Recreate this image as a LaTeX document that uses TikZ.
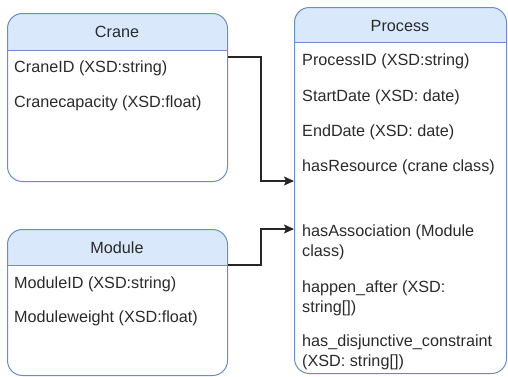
\documentclass[tikz,border=0pt]{standalone}
\usepackage{fontspec}
\setmainfont{Liberation Sans}
\usetikzlibrary{arrows.meta}
\definecolor{hdr}{HTML}{DAE8FC}
\definecolor{bdr}{HTML}{6C8EBF}
\definecolor{txt}{HTML}{2A2A2A}
\tikzset{
  umlbox/.style 2 args={draw=bdr, line width=1pt, rounded corners=15pt, rectangle,
    minimum width=#1, minimum height=#2, inner sep=0pt, anchor=north west},
  hdrfill/.style={fill=hdr},
  attr/.style={anchor=west, inner sep=0pt, text=txt, font=\fontsize{16.2}{19}\selectfont},
  title/.style={inner sep=0pt, text=txt, font=\fontsize{16.2}{19}\selectfont},
  conn/.style={draw=black!85, line width=1.1pt, -{Stealth[length=10pt,width=9pt,inset=2pt]}}
}
\begin{document}
\begin{tikzpicture}[x=1pt,y=-1pt]
\useasboundingbox (0,0) rectangle (508,376);
% Crane
\begin{scope}
\clip (7,13) rectangle (227,50);
\fill[hdrfill, rounded corners=15pt] (7,13) rectangle (227,181);
\end{scope}
\node[umlbox={220pt}{168pt}] (crane) at (7,13) {};
\draw[draw=bdr, line width=1pt] (7,50) -- (227,50);
\node[title] (craneT) at (117,32) {Crane};
\node[attr] (c1) at (14,68) {CraneID (XSD:string)};
\node[attr] (c2) at (14,103) {Cranecapacity (XSD:float)};
% Module
\begin{scope}
\clip (7,229) rectangle (227,265);
\fill[hdrfill, rounded corners=15pt] (7,229) rectangle (227,375);
\end{scope}
\node[umlbox={220pt}{146pt}] (mod) at (7,229) {};
\draw[draw=bdr, line width=1pt] (7,265) -- (227,265);
\node[title] (modT) at (117,248) {Module};
\node[attr] (m1) at (14,284) {ModuleID (XSD:string)};
\node[attr] (m2) at (14,318) {Moduleweight (XSD:float)};
% Process
\begin{scope}
\clip (294,7) rectangle (506,42);
\fill[hdrfill, rounded corners=15pt] (294,7) rectangle (506,373);
\end{scope}
\node[umlbox={212pt}{366pt}] (proc) at (294,7) {};
\draw[draw=bdr, line width=1pt] (294,42) -- (506,42);
\node[title] (procT) at (400,26) {Process};
\node[attr] (p1) at (302,61) {ProcessID (XSD:string)};
\node[attr] (p2) at (302,97) {StartDate (XSD: date)};
\node[attr] (p3) at (302,132) {EndDate (XSD: date)};
\node[attr] (p4) at (302,167) {hasResource (crane class)};
\node[attr] (p5) at (302,232) {hasAssociation (Module};
\node[attr] (p5b) at (302,252) {class)};
\node[attr] (p6) at (302,288) {happen\_after (XSD:};
\node[attr] (p6b) at (302,308) {string[])};
\node[attr] (p7) at (302,342) {has\_disjunctive\_constraint};
\node[attr] (p7b) at (302,362) {(XSD: string[])};
% connectors
\draw[conn] ([yshift=-44pt]crane.north east) -- ++(33,0) |- ([yshift=-174pt]proc.north west);
\draw[conn] ([yshift=-36pt]mod.north east) -- ++(33,0) |- ([yshift=-222pt]proc.north west);
\end{tikzpicture}
\end{document}
